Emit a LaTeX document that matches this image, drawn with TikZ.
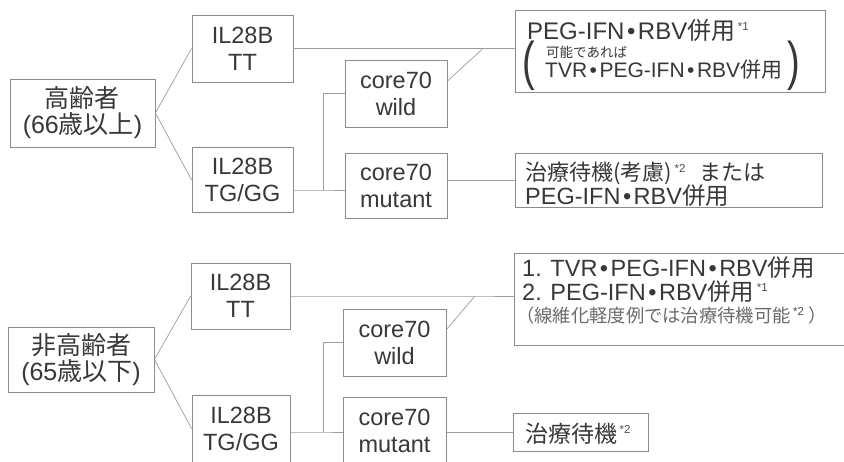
\documentclass[tikz,border=0pt]{standalone}
\usepackage{fontspec}
\setmainfont{Liberation Sans}
\newfontfamily\cjk{Noto Sans CJK JP}
\newcommand\jpt[1]{{\cjk #1}}
\newcommand\mdt{\hspace{2.5pt}•\hspace{2.5pt}}
\newcommand\fnote[1]{\hspace{2.5pt}\raisebox{0.36em}{\fontsize{11.5}{11.5}\selectfont\color{black!70}*#1}}
\begin{document}
\begin{tikzpicture}[x=1pt,y=-1pt,
  box/.style={draw=black!45, line width=0.9pt, inner sep=0pt, align=center, text=black!78},
  lat/.style={font=\fontsize{23.5}{27}\selectfont},
  jp/.style={font=\fontsize{25}{26}\selectfont},
  ln/.style={draw=black!38, line width=0.7pt},
  txt/.style={anchor=base west, inner sep=0pt, text=black!78},
  paren/.style={inner sep=0pt, text=black!78, font=\fontsize{38}{38}\selectfont, yscale=1.4}]
\useasboundingbox (0,0) rectangle (844,461);
\clip (0,0) rectangle (844,461);
\fill[white] (0,0) rectangle (844,461);

% ---------- top section ----------
\node[box, jp, minimum width=145pt, minimum height=68pt] (A1) at (82.5,113) {\jpt{高齢者}\\(66\jpt{歳以上})};
\node[box, lat, minimum width=101pt, minimum height=67pt] (B1) at (242.5,48.5) {IL28B\\TT};
\node[box, lat, minimum width=101pt, minimum height=65pt] (C1) at (242.5,180) {IL28B\\TG/GG};
\node[box, lat, minimum width=102pt, minimum height=67pt] (D1) at (396,93.5) {core70\\wild};
\node[box, lat, minimum width=102pt, minimum height=65pt] (E1) at (396,185.5) {core70\\mutant};
\node[box, minimum width=310pt, minimum height=82pt] (F1) at (670,51) {};
\node[box, minimum width=307pt, minimum height=54pt] (G1) at (668.5,180) {};

\node[txt, font=\fontsize{24}{24}\selectfont] (F1a) at (527,39) {PEG-IFN\mdt RBV\jpt{併用}\fnote{1}};
\node[txt, font=\fontsize{13.5}{13.5}\selectfont] (F1b) at (546,57) {\jpt{可能であれば}};
\node[txt, font=\fontsize{21}{21}\selectfont] (F1c) at (545,77) {TVR\mdt PEG-IFN\mdt RBV\jpt{併用}};
\node[paren] (F1l) at (529,66) {(};
\node[paren] (F1r) at (794,66) {)};

\node[txt, font=\fontsize{22}{22}\selectfont] (G1a) at (525,180) {\jpt{治療待機(考慮)}\fnote{2}\hspace{14pt}\jpt{または}};
\node[txt, lat] (G1b) at (525,204) {PEG-IFN\mdt RBV\jpt{併用}};

\coordinate (j1) at (483,48.5);
\coordinate (k1) at (323,190);
\draw[ln] (A1.east) -- (B1.west);
\draw[ln] (A1.east) -- (C1.west);
\draw[ln] (B1.east) -- (j1) -- (B1.east -| F1.west);
\draw[ln] ([yshift=-21.5pt]D1.north east) -- (j1);
\draw[ln] (C1.east |- k1) -- (k1) -- (k1 -| E1.west);
\draw[ln] (k1) |- (D1.west);
\draw[ln] (G1.west -| E1.east) -- (G1.west);

% ---------- bottom section ----------
\node[box, jp, minimum width=146pt, minimum height=65pt] (A2) at (81,359.5) {\jpt{非高齢者}\\(65\jpt{歳以下})};
\node[box, lat, minimum width=99pt, minimum height=66pt] (B2) at (240.5,296) {IL28B\\TT};
\node[box, lat, minimum width=98pt, minimum height=67pt] (C2) at (241,428.5) {IL28B\\TG/GG};
\node[box, lat, minimum width=103pt, minimum height=67pt] (D2) at (394.5,342.5) {core70\\wild};
\node[box, lat, minimum width=103pt, minimum height=67pt] (E2) at (394.5,430.5) {core70\\mutant};
\node[box, minimum width=332pt, minimum height=92pt] (F2) at (680,299) {};
\node[box, minimum width=135pt, minimum height=38pt] (G2) at (580.5,432) {};

\node[txt, lat] (F2a) at (522,276) {1. TVR\mdt PEG-IFN\mdt RBV\jpt{併用}};
\node[txt, lat] (F2b) at (522,300) {2. PEG-IFN\mdt RBV\jpt{併用}\fnote{1}};
\node[txt, font=\fontsize{18.3}{18.3}\selectfont, text=black!58] (F2c) at (516,322) {\jpt{（線維化軽度例では治療待機可能}\fnote{2}\jpt{ ）}};
\node[txt, font=\fontsize{23}{23}\selectfont] (G2a) at (525,442) {\jpt{治療待機}\fnote{2}};

\coordinate (j2) at (475,296);
\coordinate (k2) at (323,432);
\draw[ln] (A2.east) -- (B2.west);
\draw[ln] (A2.east) -- (C2.west);
\draw[ln] (B2.east) -- (j2) -- (B2.east -| F2.west);
\draw[ln] ([yshift=-21pt]D2.north east) -- (j2);
\draw[ln] (C2.east |- k2) -- (k2) -- (k2 -| E2.west);
\draw[ln] (k2) |- (D2.west);
\draw[ln] (G2.west -| E2.east) -- (G2.west);
\end{tikzpicture}
\end{document}
